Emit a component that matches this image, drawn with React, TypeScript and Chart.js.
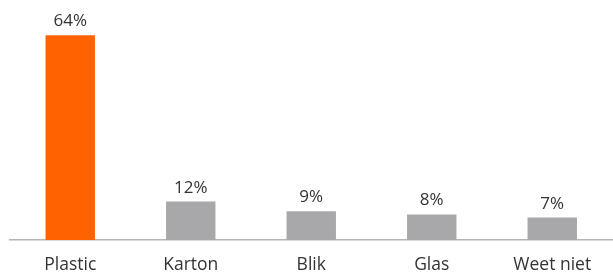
import React, { useEffect, useRef } from "react";
import { Chart, registerables } from "chart.js";

Chart.register(...registerables);

const categories = ["Plastic", "Karton", "Blik", "Glas", "Weet niet"];
const values = [64, 12, 9, 8, 7];
const barColors = ["#FF6200", "#A8A8AB", "#A8A8AB", "#A8A8AB", "#A8A8AB"];

const FONT = "'Open Sans', sans-serif";
const TEXT = "#333333";

const labelsPlugin = {
  id: "labelsPlugin",
  afterDatasetsDraw(chart: any) {
    const ctx = chart.ctx;
    const meta = chart.getDatasetMeta(0);
    const xs = chart.scales.x;
    const bottom = chart.chartArea.bottom;
    ctx.save();
    ctx.fillStyle = TEXT;
    ctx.textAlign = "center";
    ctx.textBaseline = "alphabetic";
    ctx.font = `17px ${FONT}`;
    meta.data.forEach((bar: any, i: number) => {
      ctx.fillText(values[i] + "%", bar.x, bar.y - 9);
    });
    ctx.font = `17.5px ${FONT}`;
    categories.forEach((c, i) => {
      ctx.fillText(c, xs.getPixelForTick(i), bottom + 30);
    });
    ctx.restore();
  },
};

export default function App() {
  const ref = useRef<HTMLCanvasElement>(null);
  useEffect(() => {
    const chart = new Chart(ref.current as HTMLCanvasElement, {
      type: "bar",
      data: {
        labels: categories,
        datasets: [
          {
            data: values,
            backgroundColor: barColors,
            barPercentage: 0.41,
            categoryPercentage: 1,
          },
        ],
      },
      options: {
        animation: false,
        responsive: false,
        maintainAspectRatio: false,
        layout: { padding: { left: 10, right: 0.5, top: 0, bottom: 33 } },
        plugins: { legend: { display: false }, tooltip: { enabled: false } },
        scales: {
          x: {
            grid: { display: false, drawTicks: false },
            border: { display: true, color: "#B4B4B4", width: 1.5 },
            ticks: { display: false },
          },
          y: { display: false, min: 0, max: 75 },
        },
      },
      plugins: [labelsPlugin],
    });
    return () => chart.destroy();
  }, []);
  return (
    <div style={{ position: "absolute", left: 0, top: 0, width: 613, height: 273 }}>
      <canvas ref={ref} width={613} height={273} />
    </div>
  );
}
